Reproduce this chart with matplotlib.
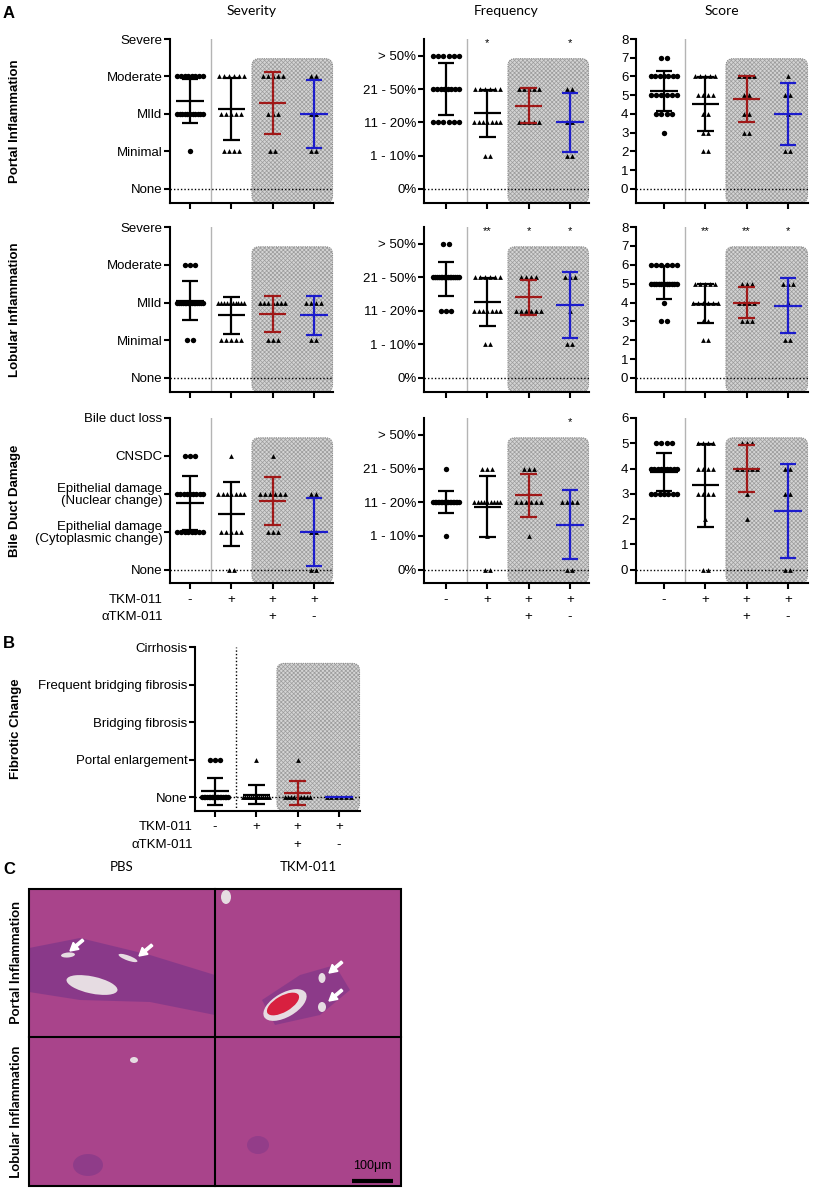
import numpy as np
import matplotlib
matplotlib.use('Agg')
import matplotlib.pyplot as plt
import matplotlib.transforms as mtransforms
from matplotlib.patches import FancyBboxPatch, Ellipse, Polygon, Rectangle, FancyArrow

plt.rcParams['font.family'] = ['Liberation Sans', 'DejaVu Sans']
plt.rcParams['hatch.linewidth'] = 0.5

# ---- data (level index per animal) ----
sev_levels = ['None', 'Minimal', 'MIld', 'Moderate', 'Severe']
freq_levels = ['0%', '1 - 10%', '11 - 20%', '21 - 50%', '> 50%']
bile_levels = ['None', 'Epithelial damage\n(Cytoplasmic change)', 'Epithelial damage\n(Nuclear change)',
               'CNSDC', 'Bile duct loss']
fib_levels = ['None', 'Portal enlargement', 'Bridging fibrosis', 'Frequent bridging fibrosis', 'Cirrhosis']

tkm_signs = ['-', '+', '+', '+']
atkm_signs = ['', '', '+', '-']

portal_sev = [[3]*8 + [2]*11 + [1], [3]*6 + [2]*5 + [1]*4, [3]*5 + [2]*3 + [1]*2, [3]*2 + [2]*2 + [1]*2]
portal_freq = [[4]*6 + [3]*8 + [2]*6, [3]*6 + [2]*7 + [1]*2, [3]*5 + [2]*5, [3]*2 + [2]*2 + [1]*2]
portal_score = [[7]*2 + [6]*7 + [5]*6 + [4]*4 + [3], [6]*5 + [5]*4 + [4]*2 + [3]*2 + [2]*2,
                [6]*4 + [5]*2 + [4]*2 + [3]*2, [6] + [5]*2 + [4] + [2]*2]

lob_sev = [[3]*3 + [2]*15 + [1]*2, [2]*10 + [1]*5, [2]*7 + [1]*3, [2]*4 + [1]*2]
lob_freq = [[4]*2 + [3]*15 + [2]*3, [3]*6 + [2]*7 + [1]*2, [3]*4 + [2]*6, [3]*3 + [2] + [1]*2]
lob_score = [[6]*6 + [5]*11 + [4] + [3]*2, [5]*5 + [4]*6 + [3]*2 + [2]*2,
             [5]*3 + [4]*4 + [3]*3, [5]*3 + [4] + [2]*2]

bile_sev = [[3]*3 + [2]*9 + [1]*8, [3] + [2]*7 + [1]*5 + [0]*2, [3] + [2]*6 + [1]*3, [2]*2 + [1]*2 + [0]*2]
bile_freq = [[3] + [2]*18 + [1], [3]*3 + [2]*9 + [1] + [0]*2, [3]*3 + [2]*6 + [1], [2]*4 + [0]*2]
bile_score = [[5]*4 + [4]*9 + [3]*7, [5]*4 + [4]*4 + [3]*4 + [2] + [0]*2,
              [5]*3 + [4]*5 + [3] + [2], [4]*2 + [3]*2 + [0]*2]

fibrotic = [[1]*3 + [0]*17, [1] + [0]*14, [1] + [0]*9, [0]*6]

stars = {(0, 1): ['', '*', '', '*'],
         (1, 1): ['', '**', '*', '*'],
         (1, 2): ['', '**', '**', '*'],
         (2, 1): ['', '', '', '*']}

row_names = ['Portal Inflammation', 'Lobular Inflammation', 'Bile Duct Damage']
col_names = ['Severity', 'Frequency', 'Score']

line_colors = ['black', 'black', '#a01818', '#1c1ccc']
markers = ['o', '^', '^', '^']

W, H = 816, 1194
fig = plt.figure(figsize=(W / 100, H / 100), dpi=100)

# canvas in pixel coordinates for panel C and free text
cv = fig.add_axes([0, 0, 1, 1])
cv.set_xlim(0, W)
cv.set_ylim(H, 0)
cv.axis('off')


def px_axes(l, t, r, b):
    return fig.add_axes([l / W, 1 - b / H, (r - l) / W, (b - t) / H])


def spread(vals, base):
    vals = np.asarray(vals)
    xs = np.zeros(len(vals))
    for v in np.unique(vals):
        idx = np.where(vals == v)[0]
        k = len(idx)
        step = base if k < 2 else min(base, 0.62 / (k - 1))
        xs[idx] = (np.arange(k) - (k - 1) / 2) * step
    return xs


def draw_panel(ax, data, ymax, ticklabels, l, t, r, b, zero, g1px, box_top=0.88, sep='gray', yticks=None):
    unit = (zero - t) / ymax
    ax.set_ylim(-(b - zero) / unit, ymax)
    xl = (1 - (g1px - l) / 41.3, 4 + (r - (g1px + 3 * 41.3)) / 41.3)
    ax.set_xlim(xl)
    wpx, hpx = r - l, b - t

    # shaded rounded box over groups 3-4
    x0 = (2.5 - xl[0]) / (xl[1] - xl[0])
    rnd = 7 / wpx
    box = FancyBboxPatch((x0, 0), 0.997 - x0, box_top, transform=ax.transAxes,
                         boxstyle='round,pad=0,rounding_size=%f' % rnd,
                         mutation_aspect=wpx / hpx, facecolor='#d4d4d4', edgecolor='#9c9c9c',
                         hatch='xxxxxxxx', lw=0, zorder=0.5, clip_on=False)
    ax.add_patch(box)
    edge = FancyBboxPatch((x0, 0), 0.997 - x0, box_top, transform=ax.transAxes,
                          boxstyle='round,pad=0,rounding_size=%f' % rnd,
                          mutation_aspect=wpx / hpx, facecolor='none', edgecolor='#8c8c8c',
                          lw=0.8, ls=(0, (1, 1)), zorder=0.6, clip_on=False)
    ax.add_patch(edge)

    if sep == 'gray':
        ax.axvline(1.5, color='#b4b4b4', lw=1, zorder=0.7)
    else:
        ax.axvline(1.5, color='black', lw=1, ls=(0, (1, 1.5)), zorder=0.7)
    ax.axhline(0, color='black', lw=1, ls=(0, (1, 1.5)), zorder=0.8)

    for i, vals in enumerate(data):
        x = i + 1
        vals = np.asarray(vals, dtype=float)
        base = 0.13 if markers[i] == 'o' else 0.12
        ax.scatter(x + spread(vals, base), vals, marker=markers[i], s=15 if i == 0 else 12,
                   color='black', lw=0, zorder=3, clip_on=False)
        m = vals.mean()
        s = vals.std(ddof=1)
        c = line_colors[i]
        ax.hlines(m, x - 0.33, x + 0.33, color=c, lw=1.6, zorder=4)
        if s > 0:
            ax.vlines(x, m - s, m + s, color=c, lw=1.6, zorder=4)
            ax.hlines([m - s, m + s], x - 0.2, x + 0.2, color=c, lw=1.6, zorder=4)

    ax.set_xticks([1, 2, 3, 4])
    ax.set_xticklabels([])
    ax.set_yticks(yticks if yticks is not None else range(len(ticklabels)))
    ax.set_yticklabels(ticklabels)
    for tl in ax.get_yticklabels():
        tl.set_multialignment('right')
        tl.set_linespacing(1.0)
    ax.tick_params(direction='out', length=4, width=1.5, labelsize=9.5, pad=1.5)
    for sp in ['top', 'right']:
        ax.spines[sp].set_visible(False)
    for sp in ['left', 'bottom']:
        ax.spines[sp].set_linewidth(1.5)
    ax.set_facecolor('none')
    return xl


rows = [[portal_sev, portal_freq, portal_score],
        [lob_sev, lob_freq, lob_score],
        [bile_sev, bile_freq, bile_score]]
row_top = [39, 227, 418]
row_zero = [189, 378, 569.5]
row_bot = [203, 392, 583]
col_lr = [(170, 333), (424, 589), (636, 808)]
col_g1 = [190, 446, 664]

for ri in range(3):
    for ci in range(3):
        l, r = col_lr[ci]
        t, z, b = row_top[ri], row_zero[ri], row_bot[ri]
        ax = px_axes(l, t, r, b)
        if ci == 0:
            labs = bile_levels if ri == 2 else sev_levels
            draw_panel(ax, rows[ri][ci], 4, labs, l, t, r, b, z, col_g1[ci])
        elif ci == 1:
            draw_panel(ax, rows[ri][ci], 4.5, freq_levels, l, t, r, b, z, col_g1[ci], yticks=range(5))
        else:
            ymax = 6 if ri == 2 else 8
            draw_panel(ax, rows[ri][ci], ymax, [str(v) for v in range(ymax + 1)], l, t, r, b, z, col_g1[ci])
        if (ri, ci) in stars:
            trans = mtransforms.blended_transform_factory(ax.transData, ax.transAxes)
            for gi, st in enumerate(stars[(ri, ci)]):
                if st:
                    ax.text(gi + 1, 0.975, st, transform=trans, ha='center', va='center', fontsize=8)
        if ri == 2:
            for gi in range(4):
                gx = col_g1[ci] + gi * 41.3
                cv.text(gx, 600, tkm_signs[gi], ha='center', va='center', fontsize=9.5)
                cv.text(gx, 617, atkm_signs[gi], ha='center', va='center', fontsize=9.5)

    fig.text(15 / W, 1 - (row_top[ri] + row_bot[ri]) / 2 / H, row_names[ri], rotation=90,
             ha='center', va='center', fontsize=9.5, weight='bold')

for ci in range(3):
    l, r = col_lr[ci]
    cv.text((l + r) / 2, 11, col_names[ci], ha='center', va='center', fontsize=10,
            family=['Lato', 'DejaVu Sans'])

cv.text(163, 600, 'TKM-011', ha='right', va='center', fontsize=9.5)
cv.text(163, 617, '\u03b1TKM-011', ha='right', va='center', fontsize=9.5)

# ---- panel B ----
axb = px_axes(195, 647, 360, 811)
draw_panel(axb, fibrotic, 4, fib_levels, 195, 647, 360, 811, 797, 215, box_top=0.9, sep='dotted')
for gi in range(4):
    gx = 215 + gi * 41.3
    cv.text(gx, 827, tkm_signs[gi], ha='center', va='center', fontsize=9.5)
    cv.text(gx, 845, atkm_signs[gi], ha='center', va='center', fontsize=9.5)
cv.text(193, 827, 'TKM-011', ha='right', va='center', fontsize=9.5)
cv.text(193, 845, '\u03b1TKM-011', ha='right', va='center', fontsize=9.5)
fig.text(16 / W, 1 - 729 / H, 'Fibrotic Change', rotation=90, ha='center', va='center',
         fontsize=9.5, weight='bold')

# ---- panel letters ----
for letter, yy in [('A', 14), ('B', 643), ('C', 869)]:
    cv.text(3, yy, letter, ha='left', va='center', fontsize=12, weight='bold')

# ---- panel C: histology sketch ----
cL, cM, cR = 29, 215, 401
cT, cY, cB = 889, 1037, 1186
pink = '#a9448b'
for (x0, y0, x1, y1) in [(cL, cT, cM, cY), (cM, cT, cR, cY), (cL, cY, cM, cB), (cM, cY, cR, cB)]:
    cv.add_patch(Rectangle((x0, y0), x1 - x0, y1 - y0, facecolor=pink, edgecolor='none', zorder=1))

# portal tract infiltrates
cv.add_patch(Polygon([(cL, 948), (80, 938), (150, 955), (cM, 975), (cM, 1015), (150, 1002),
                      (80, 1000), (cL, 992)], closed=True, facecolor='#6a3088', alpha=0.5,
                     edgecolor='none', zorder=1.2))
cv.add_patch(Ellipse((92, 985), 52, 17, angle=12, facecolor='#e6dce2', edgecolor='none', zorder=1.4))
cv.add_patch(Ellipse((68, 955), 14, 5, angle=-5, facecolor='#e6dce2', edgecolor='none', zorder=1.4))
cv.add_patch(Ellipse((128, 958), 20, 5, angle=20, facecolor='#e6dce2', edgecolor='none', zorder=1.4))
cv.add_patch(Polygon([(262, 1000), (300, 975), (335, 965), (350, 990), (320, 1015), (275, 1025)],
                     closed=True, facecolor='#6a3088', alpha=0.45, edgecolor='none', zorder=1.2))
cv.add_patch(Ellipse((285, 1005), 48, 24, angle=-30, facecolor='#e6dce2', edgecolor='none', zorder=1.4))
cv.add_patch(Ellipse((283, 1004), 36, 16, angle=-30, facecolor='#d8203f', edgecolor='none', zorder=1.5))
cv.add_patch(Ellipse((322, 978), 7, 10, facecolor='#e6dce2', edgecolor='none', zorder=1.4))
cv.add_patch(Ellipse((322, 1007), 8, 10, facecolor='#e6dce2', edgecolor='none', zorder=1.4))
cv.add_patch(Ellipse((226, 897), 10, 14, facecolor='#e6dce2', edgecolor='none', zorder=1.4))
cv.add_patch(Ellipse((88, 1165), 30, 22, facecolor='#6a3088', alpha=0.4, edgecolor='none', zorder=1.2))
cv.add_patch(Ellipse((258, 1145), 22, 18, facecolor='#6a3088', alpha=0.35, edgecolor='none', zorder=1.2))
cv.add_patch(Ellipse((134, 1060), 8, 6, facecolor='#e6dce2', edgecolor='none', zorder=1.4))
for (xa, ya) in [(83, 940), (152, 945), (342, 962), (342, 990)]:
    cv.add_patch(FancyArrow(xa, ya, -13, 11, width=2.4, head_width=9, head_length=8,
                            length_includes_head=True, color='white', zorder=2))

cv.add_patch(Rectangle((cL, cT), cR - cL, cB - cT, facecolor='none', edgecolor='black', lw=1.5, zorder=3))
cv.plot([cM, cM], [cT, cB], color='black', lw=1.5, zorder=3)
cv.plot([cL, cR], [cY, cY], color='black', lw=1.5, zorder=3)
cv.plot([352, 393], [1181, 1181], color='black', lw=3, zorder=3, solid_capstyle='butt')
cv.text(372, 1166, '100\u03bcm', ha='center', va='center', fontsize=9, zorder=3)

cv.text((cL + cM) / 2, 867, 'PBS', ha='center', va='center', fontsize=9.5, family=['Lato', 'DejaVu Sans'])
cv.text((cM + cR) / 2, 867, 'TKM-011', ha='center', va='center', fontsize=9.5, family=['Lato', 'DejaVu Sans'])
cv.text(16, (cT + cY) / 2, 'Portal Inflammation', rotation=90, ha='center', va='center', fontsize=10,
        weight='bold', family=['Lato', 'DejaVu Sans'])
cv.text(16, (cY + cB) / 2, 'Lobular Inflammation', rotation=90, ha='center', va='center', fontsize=10,
        weight='bold', family=['Lato', 'DejaVu Sans'])

fig.savefig('out.png', dpi=100)
